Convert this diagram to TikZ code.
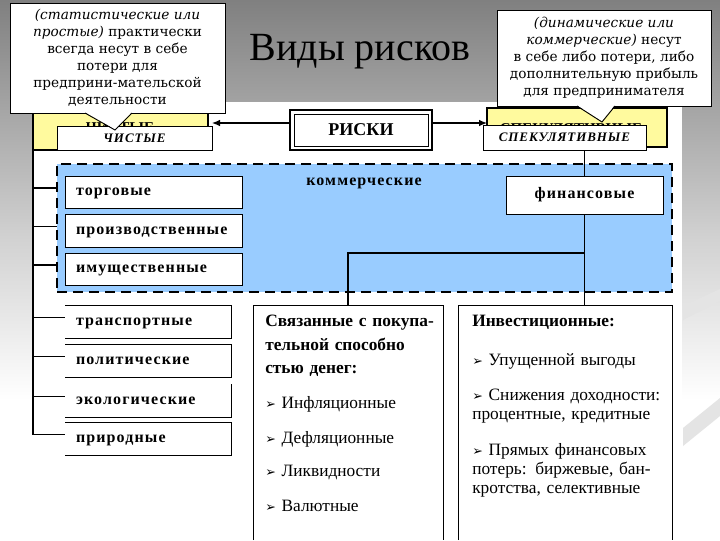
\documentclass[tikz,border=0pt]{standalone}
\usepackage{fontspec}
\setmainfont{Liberation Serif}
\newfontfamily\boxfont[LetterSpace=7]{Liberation Serif}
\newfontfamily\callfont{DejaVu Serif}
\newfontfamily\symfont{DejaVu Sans}
\usetikzlibrary{arrows.meta,calc}
\definecolor{bluefill}{HTML}{99CCFF}
\definecolor{yel}{HTML}{FFFA9E}
\definecolor{bgtop}{HTML}{808080}
\definecolor{bgmid}{HTML}{D2D2D2}
\definecolor{swoosh}{HTML}{E4E4E4}
\newcommand\arrowbul{{\symfont\fontsize{9.5}{10}\selectfont ➢}\ }
\begin{document}
\begin{tikzpicture}[x=0.75pt,y=-0.75pt,
  rbox/.style={draw=black, line width=0.75pt, fill=white, inner sep=0pt, outer sep=0pt},
  openbox/.style={inner sep=0pt, outer sep=0pt},
  conn/.style={draw=black, line width=0.9pt},
  arr/.style={conn, -{Latex[length=6pt,width=5pt]}},
  lbl/.style={font=\boxfont\bfseries\fontsize{12}{14}\selectfont, text height=1.5ex, text depth=0.25ex},
  leftlbl/.style={lbl, align=left, inner xsep=8.25pt, inner ysep=0pt, outer sep=0pt},
  capl/.style={font=\boxfont\bfseries\itshape\fontsize{9.75}{12}\selectfont},
  calltext/.style={align=center, font=\callfont\fontsize{10.25}{12.75}\selectfont},
  lowtext/.style={anchor=north west, inner sep=0pt, align=left, font=\fontsize{13}{14.25}\selectfont}
]
\useasboundingbox (0,0) rectangle (720,540);
% background
\shade[top color=bgtop, bottom color=bgmid] (0,0) rectangle (720,240);
\shade[top color=bgmid, bottom color=white] (0,240) rectangle (720,400);
\fill[white] (0,400) rectangle (720,540);
\fill[swoosh] (683,306) -- (720,289) -- (720,301) -- (683,320) -- cycle;
\fill[swoosh] (683,428) -- (720,398) -- (720,416) -- (683,446) -- cycle;
\fill[white] (33,102) rectangle (682,540);

% title
\node[anchor=base, font=\fontsize{30}{34}\selectfont] (title) at (360,60) {Виды рисков};

% yellow boxes with hidden headings
\node[rbox, fill=yel, line width=1pt, minimum width=131.25pt, minimum height=30pt] (chistY) at (120.5,130) {};
\node[font=\bfseries\fontsize{11.25}{13}\selectfont] (chistH) at (120,128) {ЧИСТЫЕ};
\node[rbox, minimum width=116.25pt, minimum height=18pt, capl] (chist) at (134.5,138) {ЧИСТЫЕ};

\node[rbox, fill=yel, line width=1pt, minimum width=135pt, minimum height=29.25pt] (spekY) at (577,127.5) {};
\node[font=\bfseries\fontsize{11.25}{13}\selectfont] (spekH) at (571,129) {СПЕКУЛЯТИВНЫЕ};
\node[rbox, minimum width=122.25pt, minimum height=18.75pt, capl] (spek) at (564.5,137.5) {СПЕКУЛЯТИВНЫЕ};

% RISKI
\node[rbox, line width=1.8pt, minimum width=106.5pt, minimum height=30pt, font=\bfseries\fontsize{13.5}{15}\selectfont] (riski) at (361,130) {РИСКИ};
\draw[line width=0.6pt] ([shift={(4,4)}]riski.north west) rectangle ([shift={(-4,-4)}]riski.south east);

% arrows from RISKI
\coordinate (rl) at ($(riski.west)+(0,-7)$);
\coordinate (rr) at ($(riski.east)+(0,-7)$);
\draw[arr] (rl) -- (rl -| chist.east);
\draw[arr] (rr) -- (rr -| spekY.west);

% commercial region
\node[draw=black, fill=bluefill, line width=2.2pt, dash pattern=on 7.5pt off 4.5pt, inner sep=0pt, outer sep=0pt, minimum width=461.25pt, minimum height=96pt] (comm) at (364.5,228) {};
\node[lbl] (commT) at (364,182) {коммерческие};
\node[rbox, leftlbl, text width=116.25pt, minimum height=24pt] (torg) at (153.5,192) {торговые};
\node[rbox, leftlbl, text width=116.25pt, minimum height=24.75pt] (proiz) at (153.5,230.5) {производственные};
\node[rbox, leftlbl, text width=116.25pt, minimum height=24pt] (imush) at (153.5,269) {имущественные};
\node[rbox, lbl, minimum width=117.75pt, minimum height=28.5pt] (fin) at (584.5,195) {финансовые};

% lower left boxes (open on the left)
\node[leftlbl, text width=108pt, minimum height=24.75pt] (trans) at (148,321.5) {транспортные};
\node[leftlbl, text width=108pt, minimum height=24.75pt] (polit) at (148,360.5) {политические};
\node[leftlbl, text width=108pt, minimum height=24.75pt] (ekol) at (148,400.5) {экологические};
\node[leftlbl, text width=108pt, minimum height=24.75pt] (prirod) at (148,438.5) {природные};
\foreach \n in {trans,polit,prirod}
  \draw[line width=0.75pt] (\n.north west) -- (\n.north east) -- (\n.south east) -- (\n.south west);
\draw[line width=0.75pt] (ekol.north east) -- (ekol.south east) -- (ekol.south west);

% lower boxes (open at the bottom)
\node[openbox, minimum width=142.5pt, minimum height=176.25pt] (svy) at (348,422.5) {};
\node[openbox, minimum width=160.5pt, minimum height=176.25pt] (inv) at (565,422.5) {};
\draw[line width=0.75pt] (svy.south west) -- (svy.north west) -- (svy.north east) -- (svy.south east);
\draw[line width=0.75pt] (inv.south west) -- (inv.north west) -- (inv.north east) -- (inv.south east);
\node[lowtext, text width=134pt] (svyT) at (265,315) {\textbf{Связанные с покупа-}\\[3.4pt]\textbf{тельной способно}\\[3.4pt]\textbf{стью денег:}\\[12pt]\arrowbul Инфляционные\\[12pt]\arrowbul Дефляционные\\[10.5pt]\arrowbul Ликвидности\\[12pt]\arrowbul Валютные};
\node[lowtext, text width=148pt] (invT) at (472,315) {\textbf{Инвестиционные:}\\[15pt]\arrowbul Упущенной выгоды\\[12pt]\arrowbul Снижения доходности:\\процентные, кредитные\\[12.75pt]\arrowbul Прямых финансовых\\потерь: биржевые, бан-\\кротства, селективные};

% left trunk and branches
\foreach \n in {torg,proiz,imush,trans,polit,ekol,prirod}
  \coordinate (\n-b) at ($(\n.west)+(0,-4)$);
\draw[conn] (chistY.south west) -- (chistY.south west |- prirod-b) -- (prirod-b);
\foreach \n in {torg,proiz,imush}
  \draw[conn] (chistY.south west |- \n-b) -- (comm.west |- \n-b);
\foreach \n in {trans,polit,ekol}
  \draw[conn] (chistY.south west |- \n-b) -- (\n-b);

% speculative branch
\coordinate (fork) at ($(fin.south)+(0,39)$);
\draw[conn] (fin.north) -- (fin.north |- spek.south);
\draw[conn] (fin.south) -- (fin.south |- inv.north);
\draw[conn] (svy.north) |- (fork);

% callouts
\node[rbox, line width=0.7pt, minimum width=161.25pt, minimum height=82.5pt, calltext] (callL) at (117.5,58) {{\itshape (статистические или}\\{\itshape простые)} практически\\всегда несут в себе\\потери для\\предприни-мательской\\деятельности};
\fill[white] (86,111) -- (131,111) -- (131,113) -- (115,129.5) -- (86,113) -- cycle;
\draw[line width=0.7pt] (85,113) -- (115,130) -- (132,113);

\node[rbox, line width=0.7pt, minimum width=160.5pt, minimum height=72pt, calltext] (callR) at (604,58) {{\itshape (динамические или}\\{\itshape коммерческие)} несут\\в себе либо потери, либо\\дополнительную прибыль\\для предпринимателя};
\fill[white] (578,104) -- (614,104) -- (614,106) -- (602,121.5) -- (578,106) -- cycle;
\draw[line width=0.7pt] (577,106) -- (602,122) -- (615,106);
\end{tikzpicture}
\end{document}
